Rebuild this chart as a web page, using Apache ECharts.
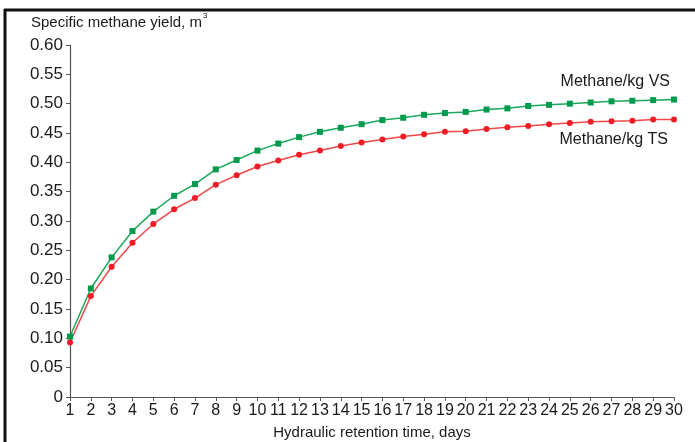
<!DOCTYPE html>
<html>
<head>
<meta charset="utf-8">
<script src="https://cdn.jsdelivr.net/npm/echarts@6/dist/echarts.min.js"></script>
<style>html,body{margin:0;padding:0;background:#fff}#c{width:695px;height:442px}</style>
</head>
<body>
<div id="c"></div>
<script>
const days = ['1','2','3','4','5','6','7','8','9','10','11','12','13','14','15','16','17','18','19','20','21','22','23','24','25','26','27','28','29','30'];
const methaneVS = [0.103,0.185,0.238,0.283,0.316,0.343,0.363,0.388,0.404,0.420,0.432,0.443,0.452,0.459,0.465,0.472,0.476,0.481,0.484,0.486,0.490,0.492,0.496,0.498,0.500,0.502,0.504,0.505,0.506,0.507];
const methaneTS = [0.093,0.172,0.222,0.263,0.295,0.320,0.339,0.362,0.378,0.393,0.403,0.413,0.420,0.428,0.434,0.439,0.444,0.448,0.452,0.453,0.457,0.460,0.462,0.465,0.467,0.469,0.470,0.471,0.473,0.473];
const yTicks = [0,0.05,0.10,0.15,0.20,0.25,0.30,0.35,0.40,0.45,0.50,0.55,0.60];

const chart = echarts.init(document.getElementById('c'));
const font = 'Liberation Sans, Arial, sans-serif';
chart.setOption({
  animation: false,
  textStyle: {fontFamily: font},
  title: {
    left: 26, top: 7,
    text: '{a|Specific methane yield, m}{s|3}',
    textStyle: {
      fontWeight: 'normal',
      rich: {
        a: {fontSize: 15, fontWeight: 'normal', color: '#1a1a1a', fontFamily: font, verticalAlign: 'bottom', lineHeight: 18},
        s: {fontSize: 8, fontWeight: 'normal', color: '#1a1a1a', fontFamily: font, verticalAlign: 'top', lineHeight: 18, padding: [0,0,8,1]}
      }
    }
  },
  grid: {left: 70, right: 21, top: 45, bottom: 45, containLabel: false, outerBoundsMode: 'none'},
  xAxis: {
    type: 'category', data: days, boundaryGap: false,
    name: 'Hydraulic retention time, days', nameLocation: 'middle', nameGap: 28,
    nameTextStyle: {fontSize: 15, color: '#1a1a1a'},
    axisLine: {lineStyle: {color: '#555', width: 1.2}},
    axisTick: {show: true, length: 4, alignWithLabel: true, lineStyle: {color: '#555'}},
    axisLabel: {fontSize: 16, color: '#1a1a1a', margin: 6, interval: 0}
  },
  yAxis: {
    type: 'value', min: 0, max: 0.6, interval: 0.05,
    splitLine: {show: false},
    axisLine: {show: true, lineStyle: {color: '#555', width: 1.2}},
    axisTick: {show: true, length: 4, lineStyle: {color: '#555'}},
    axisLabel: {fontSize: 17, color: '#1a1a1a', margin: 7,
      formatter: v => { const t = yTicks.find(x => Math.abs(x - v) < 1e-6); return t === 0 ? '0' : (t !== undefined ? t.toFixed(2) : ''); }}
  },
  series: [
    {
      name: 'Methane/kg VS', type: 'line', data: methaneVS,
      symbol: 'rect', symbolSize: 6,
      lineStyle: {color: '#1aa85a', width: 1.5},
      itemStyle: {color: '#009a4c'},
      endLabel: {show: true, formatter: 'Methane/kg VS', fontSize: 16, color: '#1a1a1a',
        align: 'right', verticalAlign: 'middle', offset: [-12, -18]}
    },
    {
      name: 'Methane/kg TS', type: 'line', data: methaneTS,
      symbol: 'circle', symbolSize: 6,
      lineStyle: {color: '#f0474a', width: 1.5},
      itemStyle: {color: '#ee1c25'},
      endLabel: {show: true, formatter: 'Methane/kg TS', fontSize: 16, color: '#1a1a1a',
        align: 'right', verticalAlign: 'middle', offset: [-14, 20]}
    }
  ],
  graphic: [
    {type: 'line', shape: {x1: 4, y1: 10, x2: 695, y2: 10}, style: {stroke: '#111', lineWidth: 3}},
    {type: 'line', shape: {x1: 5, y1: 9, x2: 5, y2: 442}, style: {stroke: '#111', lineWidth: 3}}
  ]
});
</script>
</body>
</html>
